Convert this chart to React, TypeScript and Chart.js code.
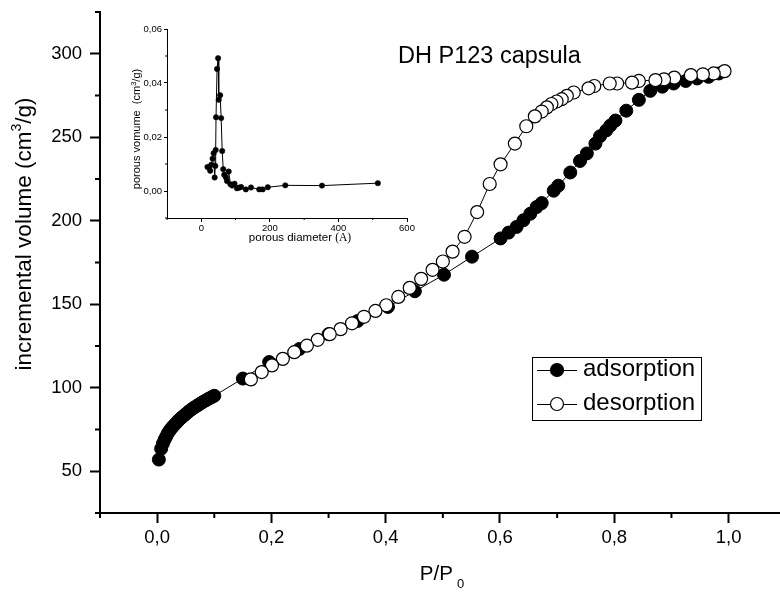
import React, { useEffect, useRef } from 'react';
import { Chart, registerables } from 'chart.js';

Chart.register(...registerables);

const FONT = '"Liberation Sans", Arial, Helvetica, sans-serif';
const SERIF = '"Liberation Serif", "Times New Roman", serif';

// ---- main isotherm data ----
const adsorptionP = [0.003, 0.007, 0.010, 0.013, 0.016, 0.019, 0.022, 0.025, 0.029, 0.033, 0.037, 0.041, 0.045, 0.050, 0.055, 0.060, 0.065, 0.070, 0.075, 0.080, 0.085, 0.090, 0.095, 0.100,
  0.150, 0.196, 0.249, 0.300, 0.351, 0.404, 0.451, 0.502, 0.551, 0.601,
  0.615, 0.629, 0.641, 0.653, 0.664, 0.673, 0.694, 0.702, 0.723, 0.740,
  0.752, 0.767, 0.775, 0.786, 0.793, 0.802, 0.821, 0.843, 0.863, 0.884,
  0.904, 0.925, 0.945, 0.965, 0.983];
const adsorptionV = [57, 63.5, 66.5, 68.9, 70.9, 72.9, 74.4, 75.8, 77.3, 78.8, 80.3, 81.6, 82.8, 84.2, 85.7, 87, 88.2, 89.3, 90.4, 91.5, 92.4, 93.4, 94.3, 95.2,
  105.5, 115.4, 123.2, 132.1, 140, 148.4, 157.8, 167.7, 178.5, 189.4,
  192.9, 196.3, 200.3, 204.2, 208.2, 210.6, 218, 221, 228.9, 235.8,
  240.3, 246.2, 250.6, 254.1, 257, 260, 265.9, 272.4, 277.8, 280.3,
  282.2, 283.7, 285.2, 286.2, 288.2];

const desorptionP = [0.993, 0.974, 0.955, 0.934, 0.905, 0.887, 0.872, 0.843, 0.831, 0.805,
  0.792, 0.765, 0.755, 0.729, 0.717, 0.708, 0.699, 0.690, 0.682, 0.673,
  0.661, 0.646, 0.626, 0.601, 0.582, 0.560, 0.538, 0.517, 0.500, 0.482,
  0.462, 0.442, 0.422, 0.401, 0.382, 0.362, 0.341, 0.321, 0.302, 0.281,
  0.262, 0.240, 0.220, 0.201, 0.183, 0.164];
const desorptionV = [289.6, 288.2, 287.7, 287.2, 285.7, 284.7, 284.2, 283.7, 282.7, 282.2,
  282.2, 280.7, 279.3, 276.8, 274.8, 272.8, 271.4, 269.9, 267.9, 265.4,
  262.5, 256.6, 246.2, 233.8, 222, 205.2, 190.4, 181.5, 175.6, 170.6,
  165.2, 159.8, 154.4, 149.4, 146, 142.5, 138.6, 135.1, 132.1, 128.7,
  125.2, 121.3, 117.3, 113.4, 109.4, 105];

const xTicks = [0, 0.2, 0.4, 0.6, 0.8, 1.0];
const xMinorTicks = [-0.1, 0.1, 0.3, 0.5, 0.7, 0.9];
const yTicks = [50, 100, 150, 200, 250, 300];
const yMinorTicks = [25, 75, 125, 175, 225, 275, 325];

// ---- inset pore size distribution ----
const poreDiameter = [18, 22, 26, 29, 33, 36, 39, 41, 42, 43,
  46, 49, 51, 55, 58, 61, 64, 67, 72, 75,
  80, 85, 90, 97, 104, 110, 116, 130, 145, 169,
  179, 194, 245, 352, 515];
const poreVolume = [0.0089, 0.0087, 0.0075, 0.0097, 0.0120, 0.0140, 0.0050, 0.0093, 0.0152, 0.0273,
  0.0452, 0.0492, 0.0338, 0.0355, 0.0270, 0.0148, 0.0081, 0.0060, 0.0050, 0.0037,
  0.0072, 0.0025, 0.0020, 0.0027, 0.0010, 0.0012, 0.0015, 0.0006, 0.0013, 0.0006,
  0.0006, 0.0014, 0.0021, 0.0020, 0.0029];
const insetXTicks = [0, 200, 400, 600];
const insetXMinor = [-100, 100, 300, 500];
const insetYTicks = [0, 0.02, 0.04, 0.06];
const insetYMinor = [-0.01, 0.01, 0.03, 0.05];

type Part = { t: string; size: number; dy?: number; family?: string; gap?: number };

function drawRich(ctx: CanvasRenderingContext2D, parts: Part[], x: number, y: number, align: 'center' | 'left') {
  let total = 0;
  const widths: number[] = [];
  for (const p of parts) {
    ctx.font = `${p.size}px ${p.family || FONT}`;
    const w = ctx.measureText(p.t).width + (p.gap || 0);
    widths.push(w);
    total += w;
  }
  let cx = align === 'center' ? x - total / 2 : x;
  ctx.textAlign = 'left';
  ctx.textBaseline = 'alphabetic';
  parts.forEach((p, i) => {
    ctx.font = `${p.size}px ${p.family || FONT}`;
    ctx.fillText(p.t, cx + (p.gap || 0), y + (p.dy || 0));
    cx += widths[i];
  });
}

function minorTicksPlugin(xs: number[], ys: number[], len: number, width: number) {
  return {
    id: 'minorTicks',
    afterDraw(chart: any) {
      const ctx = chart.ctx as CanvasRenderingContext2D;
      const { left, bottom } = chart.chartArea;
      ctx.save();
      ctx.strokeStyle = '#000';
      ctx.lineWidth = width;
      for (const v of xs) {
        const px = chart.scales.x.getPixelForValue(v);
        ctx.beginPath();
        ctx.moveTo(px, bottom);
        ctx.lineTo(px, bottom + len);
        ctx.stroke();
      }
      for (const v of ys) {
        const py = chart.scales.y.getPixelForValue(v);
        ctx.beginPath();
        ctx.moveTo(left, py);
        ctx.lineTo(left - len, py);
        ctx.stroke();
      }
      ctx.restore();
    },
  };
}

const mainDecor = {
  id: 'mainDecor',
  afterDraw(chart: any) {
    const ctx = chart.ctx as CanvasRenderingContext2D;
    ctx.save();
    ctx.fillStyle = '#000';
    // y axis title
    ctx.save();
    ctx.translate(31, 234);
    ctx.rotate(-Math.PI / 2);
    drawRich(ctx, [
      { t: 'incremental volume (cm', size: 22.5 },
      { t: '3', size: 14, dy: -10 },
      { t: '/g)', size: 22.5 },
    ], 0, 0, 'center');
    ctx.restore();
    // x axis title
    drawRich(ctx, [
      { t: 'P/P', size: 20.5 },
      { t: '0', size: 13, dy: 8, gap: 4 },
    ], 442, 580, 'center');
    // plot title
    drawRich(ctx, [{ t: 'DH P123 capsula', size: 23.5 }], 398, 63, 'left');

    // legend
    const boxL = 532, boxR = 701, boxT = 357, boxB = 420;
    ctx.strokeStyle = '#000';
    ctx.lineWidth = 1;
    ctx.strokeRect(boxL + 0.5, boxT + 0.5, boxR - boxL, boxB - boxT);
    const rows = [
      { label: 'adsorption', y: 370, fill: '#000', text: 376 },
      { label: 'desorption', y: 404, fill: '#fff', text: 410 },
    ];
    for (const r of rows) {
      ctx.beginPath();
      ctx.moveTo(537, r.y + 0.5);
      ctx.lineTo(577, r.y + 0.5);
      ctx.lineWidth = 1;
      ctx.stroke();
      ctx.beginPath();
      ctx.arc(557, r.y, 6.5, 0, Math.PI * 2);
      ctx.fillStyle = r.fill;
      ctx.fill();
      ctx.lineWidth = 1.2;
      ctx.stroke();
      ctx.fillStyle = '#000';
      drawRich(ctx, [{ t: r.label, size: 24 }], 583, r.text, 'left');
    }
    ctx.restore();
  },
};

const insetDecor = {
  id: 'insetDecor',
  afterDraw(chart: any) {
    const ctx = chart.ctx as CanvasRenderingContext2D;
    ctx.save();
    ctx.fillStyle = '#000';
    ctx.save();
    ctx.translate(40, 119);
    ctx.rotate(-Math.PI / 2);
    drawRich(ctx, [
      { t: 'porous vomume  (cm', size: 11 },
      { t: '3', size: 7.5, dy: -4.5 },
      { t: '/g)', size: 11 },
    ], 0, 0, 'center');
    ctx.restore();
    drawRich(ctx, [
      { t: 'porous diameter ', size: 11.5 },
      { t: '(A)', size: 11.5, family: SERIF },
    ], 200, 231, 'center');
    ctx.restore();
  },
};

const fitX = (h: number) => (s: any) => { s.height = h; s.paddingLeft = 0; s.paddingRight = 0; };
const fitY = (w: number) => (s: any) => { s.width = w; s.paddingTop = 0; s.paddingBottom = 0; };

export default function App() {
  const mainRef = useRef<HTMLCanvasElement>(null);
  const insetRef = useRef<HTMLCanvasElement>(null);

  useEffect(() => {
    const main = new Chart(mainRef.current as HTMLCanvasElement, {
      type: 'scatter',
      data: {
        datasets: [
          {
            label: 'desorption',
            order: 0,
            data: desorptionP.map((p, i) => ({ x: p, y: desorptionV[i] })),
            showLine: true,
            borderColor: '#000',
            borderWidth: 1,
            pointRadius: 6.5,
            pointBackgroundColor: '#fff',
            pointBorderColor: '#000',
            pointBorderWidth: 1.2,
          },
          {
            label: 'adsorption',
            order: 1,
            data: adsorptionP.map((p, i) => ({ x: p, y: adsorptionV[i] })),
            showLine: true,
            borderColor: '#000',
            borderWidth: 1,
            pointRadius: 6.5,
            pointBackgroundColor: '#000',
            pointBorderColor: '#000',
            pointBorderWidth: 1,
          },
        ],
      },
      options: {
        animation: false,
        responsive: false,
        devicePixelRatio: 1,
        layout: { autoPadding: false, padding: { left: 0, top: 12, right: 0, bottom: 0 } },
        plugins: { legend: { display: false }, tooltip: { enabled: false } },
        scales: {
          x: {
            type: 'linear',
            min: -0.1,
            max: 1.09,
            afterBuildTicks: (s: any) => { s.ticks = xTicks.map((v) => ({ value: v })); },
            afterFit: fitX(84),
            ticks: {
              callback: (v: any) => Number(v).toFixed(1).replace('.', ','),
              font: { family: FONT, size: 18.5 },
              color: '#000',
              padding: 4,
              maxRotation: 0,
              autoSkip: false,
            },
            grid: { display: true, drawOnChartArea: false, drawTicks: true, tickLength: 10, tickWidth: 2, tickColor: '#000', color: '#000' },
            border: { display: true, color: '#000', width: 2 },
          },
          y: {
            type: 'linear',
            min: 25,
            max: 325,
            afterBuildTicks: (s: any) => { s.ticks = yTicks.map((v) => ({ value: v })); },
            afterFit: fitY(100),
            ticks: {
              callback: (v: any) => String(v),
              font: { family: FONT, size: 18.5 },
              color: '#000',
              padding: 8,
              autoSkip: false,
            },
            grid: { display: true, drawOnChartArea: false, drawTicks: true, tickLength: 10, tickWidth: 2, tickColor: '#000', color: '#000' },
            border: { display: true, color: '#000', width: 2 },
          },
        },
      },
      plugins: [minorTicksPlugin(xMinorTicks, yMinorTicks, 5, 2), mainDecor],
    } as any);

    const inset = new Chart(insetRef.current as HTMLCanvasElement, {
      type: 'scatter',
      data: {
        datasets: [
          {
            label: 'pore volume',
            data: poreDiameter.map((d, i) => ({ x: d, y: poreVolume[i] })),
            showLine: true,
            borderColor: '#000',
            borderWidth: 1,
            pointRadius: 2.7,
            pointBackgroundColor: '#000',
            pointBorderColor: '#000',
            pointBorderWidth: 0.5,
          },
        ],
      },
      options: {
        animation: false,
        responsive: false,
        devicePixelRatio: 1,
        layout: { autoPadding: false, padding: { left: 0, top: 19, right: 13, bottom: 0 } },
        plugins: { legend: { display: false }, tooltip: { enabled: false } },
        scales: {
          x: {
            type: 'linear',
            min: -100,
            max: 600,
            afterBuildTicks: (s: any) => { s.ticks = insetXTicks.map((v) => ({ value: v })); },
            afterFit: fitX(32),
            ticks: {
              callback: (v: any) => String(v),
              font: { family: FONT, size: 9.5 },
              color: '#000',
              padding: 1,
              maxRotation: 0,
              autoSkip: false,
            },
            grid: { display: true, drawOnChartArea: false, drawTicks: true, tickLength: 4, tickWidth: 1, tickColor: '#000', color: '#000' },
            border: { display: true, color: '#000', width: 1 },
          },
          y: {
            type: 'linear',
            min: -0.01,
            max: 0.06,
            afterBuildTicks: (s: any) => { s.ticks = insetYTicks.map((v) => ({ value: v })); },
            afterFit: fitY(67),
            ticks: {
              callback: (v: any) => Number(v).toFixed(2).replace('.', ','),
              font: { family: FONT, size: 9.5 },
              color: '#000',
              padding: 2,
              autoSkip: false,
            },
            grid: { display: true, drawOnChartArea: false, drawTicks: true, tickLength: 3, tickWidth: 1, tickColor: '#000', color: '#000' },
            border: { display: true, color: '#000', width: 1 },
          },
        },
      },
      plugins: [minorTicksPlugin(insetXMinor, insetYMinor, 2, 1), insetDecor],
    } as any);

    return () => {
      main.destroy();
      inset.destroy();
    };
  }, []);

  return (
    <div style={{ position: 'absolute', left: 0, top: 0, width: 780, height: 597, background: '#fff', overflow: 'hidden' }}>
      <canvas ref={mainRef} width={780} height={597} style={{ position: 'absolute', left: 0, top: 0, width: 780, height: 597 }} />
      <canvas ref={insetRef} width={320} height={240} style={{ position: 'absolute', left: 100, top: 10, width: 320, height: 240 }} />
    </div>
  );
}
